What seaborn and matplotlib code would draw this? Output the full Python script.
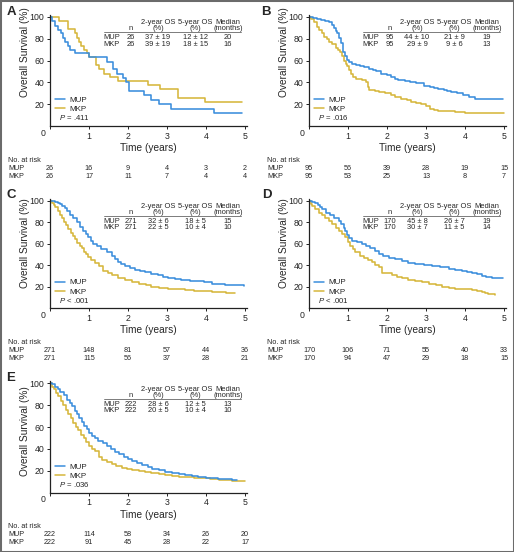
import numpy as np
import pandas as pd
import matplotlib
matplotlib.use('Agg')
import matplotlib.pyplot as plt
from matplotlib.lines import Line2D
from matplotlib.patches import Rectangle
from matplotlib.transforms import blended_transform_factory
import seaborn as sns

sns.set_style('ticks')
plt.rcParams['font.family'] = ['Liberation Sans', 'DejaVu Sans']
plt.rcParams['mathtext.fontset'] = 'custom'
plt.rcParams['mathtext.it'] = 'Liberation Sans:italic'
plt.rcParams['mathtext.rm'] = 'Liberation Sans'

BLUE = '#3b8edc'
GOLD = '#d6b73c'
W, H = 514, 552

groups = ['MUP', 'MKP']
years = [0, 1, 2, 3, 4, 5]

# --- survival curves (time in years, survival %) ---
a_mup_t = [0, 0.04, 0.13, 0.2, 0.27, 0.33, 0.38, 0.45, 0.52, 0.65, 1.0, 1.45, 1.62, 1.72, 1.88, 1.95, 2.02, 2.4, 2.58, 2.8, 3.1, 4.2, 4.92]
a_mup_s = [100, 96, 92, 88, 85, 81, 77, 73, 70, 67, 63, 59, 52, 48, 44, 40, 32, 28, 24, 20, 16, 12, 12]
a_mkp_t = [0, 0.22, 0.45, 0.65, 0.7, 0.75, 0.8, 0.87, 0.95, 1.0, 1.18, 1.25, 1.38, 1.55, 1.75, 2.52, 2.82, 3.28, 3.98, 4.93]
a_mkp_s = [100, 96, 89, 85, 81, 77, 73, 70, 67, 63, 56, 52, 48, 45, 41, 38, 34, 26, 22, 22]

b_mup_t = [0, 0.1, 0.2, 0.3, 0.4, 0.5, 0.58, 0.65, 0.7, 0.73, 0.78, 0.82, 0.86, 0.88, 0.93, 0.97, 1.03, 1.1, 1.2, 1.3,
           1.42, 1.55, 1.65, 1.72, 1.85, 2.0, 2.1, 2.2, 2.28, 2.45, 2.6, 2.75, 2.96, 3.1, 3.2, 3.3, 3.45, 3.55, 3.65,
           3.8, 3.95, 4.1, 4.25, 4.98]
b_mup_s = [100, 99, 98, 97, 96, 95, 93, 90, 87, 85, 81, 76, 72, 68, 64, 61, 59, 57, 56, 55,
           54, 52, 51, 50, 48, 47, 45, 43, 42, 41, 40, 39, 37, 36, 35, 34, 33, 32, 31,
           30, 28, 27, 25, 24.5]
b_mkp_t = [0, 0.06, 0.13, 0.2, 0.26, 0.33, 0.39, 0.45, 0.52, 0.6, 0.69, 0.75, 0.8, 0.85, 0.9, 0.94, 0.97, 1.02, 1.07,
           1.13, 1.2, 1.35, 1.46, 1.5, 1.55, 1.7, 1.8, 1.95, 2.1, 2.2, 2.36, 2.5, 2.62, 2.75, 2.88, 3.0, 3.1, 3.2, 3.3,
           3.75, 4.0, 4.3, 5.0]
b_mkp_s = [100, 98, 95, 91, 88, 85, 82, 80, 77, 75, 72, 70, 68, 64, 60, 57, 55, 51, 48,
           45, 43, 42, 40, 36, 33, 32, 31, 30, 28, 27, 25, 24, 22, 21, 20, 18, 16, 15, 14,
           13, 12, 11.5, 11.5]

c_mup_t = [0, 0.08, 0.13, 0.2, 0.26, 0.32, 0.38, 0.44, 0.51, 0.6, 0.68, 0.76, 0.85, 0.92, 0.98, 1.04, 1.1, 1.2, 1.32,
           1.45, 1.58, 1.66, 1.75, 1.83, 1.92, 2.05, 2.18, 2.3, 2.44, 2.6, 2.78, 2.9, 3.03, 3.2, 3.37, 3.6, 3.8, 3.95,
           4.15, 4.3, 4.49, 4.7, 4.98]
c_mup_s = [100, 99.5, 99, 98, 97, 95, 93, 90, 87, 84, 80, 76, 72, 69, 66, 63, 60, 58, 55,
           52, 49, 46, 43, 41, 39, 37, 36, 35, 34, 32, 31, 29.5, 28, 27, 26, 25.5, 25, 24,
           23, 22.5, 22, 21.5, 21]
c_mkp_t = [0, 0.05, 0.1, 0.13, 0.2, 0.25, 0.3, 0.36, 0.42, 0.47, 0.53, 0.58, 0.64, 0.7, 0.76, 0.81, 0.88, 0.93, 0.98,
           1.06, 1.15, 1.25, 1.37, 1.48, 1.58, 1.75, 1.92, 2.1, 2.27, 2.45, 2.6, 2.8, 3.03, 3.2, 3.46, 3.7, 3.97, 4.15,
           4.3, 4.5, 4.74]
c_mkp_s = [100, 98, 96, 94, 90, 87, 84, 80, 77, 74, 70, 67, 64, 61, 58, 56, 52, 50, 48,
           45, 42, 39, 35, 33, 31, 28, 26, 24.5, 23, 21.5, 20, 19, 18, 17.5, 17, 16.5, 16, 15.5,
           15, 14.5, 14]

d_mup_t = [0, 0.08, 0.16, 0.22, 0.27, 0.33, 0.44, 0.55, 0.65, 0.76, 0.83, 0.89, 0.93, 0.97, 1.03, 1.1, 1.22, 1.36,
           1.46, 1.57, 1.68, 1.79, 1.9, 2.04, 2.2, 2.38, 2.55, 2.73, 2.95, 3.15, 3.35, 3.58, 3.75, 3.92, 4.05, 4.18,
           4.3, 4.44, 4.55, 4.69, 4.98]
d_mup_s = [100, 99, 98, 96, 94, 92, 89, 87, 84, 81, 78, 75, 72, 68, 65, 63, 62, 60,
           58, 56, 53, 50, 49, 47, 46, 44, 42.5, 41, 40, 39, 38, 36.5, 36, 35, 34, 33,
           31.5, 30, 29, 28, 28]
d_mkp_t = [0, 0.04, 0.08, 0.16, 0.25, 0.33, 0.42, 0.5, 0.59, 0.68, 0.76, 0.85, 0.93, 1.0, 1.06, 1.12, 1.19, 1.3, 1.4,
           1.5, 1.62, 1.7, 1.79, 1.87, 2.0, 2.13, 2.25, 2.38, 2.55, 2.73, 2.9, 3.07, 3.25, 3.41, 3.58, 3.75, 4.0, 4.18,
           4.3, 4.44, 4.52, 4.6, 4.78]
d_mkp_s = [100, 97, 95, 92, 89, 87, 84, 81, 78, 75, 72, 69, 66, 62, 58, 55, 52, 49, 47,
           45, 43, 40, 38, 33, 32.5, 31, 29.5, 28, 26.5, 25, 24, 23, 21.5, 20, 19, 18, 17.5, 17,
           16, 15, 14, 13, 12.5]

e_mup_t = [0, 0.06, 0.13, 0.2, 0.26, 0.35, 0.43, 0.5, 0.56, 0.63, 0.69, 0.75, 0.81, 0.88, 0.94, 1.0, 1.07, 1.15, 1.24,
           1.35, 1.46, 1.57, 1.67, 1.78, 1.89, 2.0, 2.1, 2.22, 2.36, 2.5, 2.62, 2.8, 2.96, 3.13, 3.3, 3.47, 3.64, 3.8,
           3.99, 4.3, 4.67, 4.8]
e_mup_s = [100, 99, 97, 95, 92, 89, 85, 82, 79, 75, 72, 68, 65, 61, 58, 55, 52, 50, 47,
           45, 43, 40, 37, 35, 33, 31, 29, 27, 25, 23.5, 22, 20.5, 19, 18, 17, 16, 15, 14,
           13, 12.5, 12, 12]
e_mkp_t = [0, 0.05, 0.09, 0.15, 0.21, 0.28, 0.34, 0.4, 0.47, 0.53, 0.6, 0.66, 0.73, 0.8, 0.86, 0.92, 0.99, 1.07, 1.16,
           1.25, 1.33, 1.45, 1.59, 1.7, 1.84, 1.97, 2.1, 2.27, 2.44, 2.6, 2.79, 2.95, 3.13, 3.3, 3.47, 3.7, 3.9, 4.1,
           4.33, 4.5, 4.67, 4.85, 5.0]
e_mkp_s = [100, 97, 95, 91, 88, 84, 80, 76, 72, 68, 64, 60, 57, 53, 50, 46, 43, 40, 38,
           33, 30, 28, 26, 24.5, 23, 22, 21, 20, 19, 18, 17, 16, 15, 14.5, 14, 13.5, 13, 12.5,
           12, 11.5, 11, 10.5, 10.5]

# --- numbers at risk ---
a_risk = ([26, 16, 9, 4, 3, 2], [26, 17, 11, 7, 4, 4])
b_risk = ([95, 56, 39, 28, 19, 15], [95, 53, 25, 13, 8, 7])
c_risk = ([271, 148, 81, 57, 44, 36], [271, 115, 56, 37, 28, 21])
d_risk = ([170, 106, 71, 55, 40, 33], [170, 94, 47, 29, 18, 15])
e_risk = ([222, 114, 58, 34, 26, 20], [222, 91, 45, 28, 22, 17])

# --- inset tables: n, 2-year OS, 5-year OS, median (months) ---
a_tab = (['26', '37 ± 19', '12 ± 12', '20'], ['26', '39 ± 19', '18 ± 15', '16'])
b_tab = (['95', '44 ± 10', '21 ± 9', '19'], ['95', '29 ± 9', '9 ± 6', '13'])
c_tab = (['271', '32 ± 6', '18 ± 5', '15'], ['271', '22 ± 5', '10 ± 4', '10'])
d_tab = (['170', '45 ± 8', '26 ± 7', '19'], ['170', '30 ± 7', '11 ± 5', '14'])
e_tab = (['222', '28 ± 6', '12 ± 5', '13'], ['222', '20 ± 5', '10 ± 4', '10'])

p_vals = ['= .411', '= .016', '< .001', '< .001', '= .036']
letters = ['A', 'B', 'C', 'D', 'E']

curves = [
    (a_mup_t, a_mup_s, a_mkp_t, a_mkp_s),
    (b_mup_t, b_mup_s, b_mkp_t, b_mkp_s),
    (c_mup_t, c_mup_s, c_mkp_t, c_mkp_s),
    (d_mup_t, d_mup_s, d_mkp_t, d_mkp_s),
    (e_mup_t, e_mup_s, e_mkp_t, e_mkp_s),
]
risks = [a_risk, b_risk, c_risk, d_risk, e_risk]
tables = [a_tab, b_tab, c_tab, d_tab, e_tab]

# layout in pixels: left edge, y of 0 %, y of 100 %, ylabel position, letter position
layout = [
    (50, 126, 17, 0.66, (11, 12)),
    (309, 126, 17, 0.66, (266, 12)),
    (50, 308.3, 200.7, 0.59, (11, 195)),
    (309, 308.3, 200.7, 0.59, (267, 195)),
    (50, 492.7, 383.3, 0.55, (11, 378)),
]

fig = plt.figure(figsize=(W / 100, H / 100), dpi=100)
fig.patch.set_facecolor('white')

for i in range(5):
    left, base, top, ylab_y, (lx, ly) = layout[i]
    wpx = 195 * 1.01
    hpx = (base - top) * 1.02
    ax = fig.add_axes([left / W, (H - base) / H, wpx / W, hpx / H])

    mt, ms, kt, ks = curves[i]
    df = pd.concat([
        pd.DataFrame({'t': mt, 's': ms, 'grp': 'MUP'}),
        pd.DataFrame({'t': kt, 's': ks, 'grp': 'MKP'}),
    ])
    sns.lineplot(data=df, x='t', y='s', hue='grp', hue_order=['MKP', 'MUP'],
                 palette={'MUP': BLUE, 'MKP': GOLD}, estimator=None, sort=False,
                 drawstyle='steps-post', lw=1.15, legend=False, ax=ax)

    ax.set_xlim(0, 5.05)
    ax.set_ylim(0, 102)
    sns.despine(ax=ax)
    for sp in ['left', 'bottom']:
        ax.spines[sp].set_linewidth(0.9)
        ax.spines[sp].set_color('#222222')
    ax.set_yticks([20, 40, 60, 80, 100])
    ax.set_xticks(years)
    ax.set_xticklabels([''] + [str(y) for y in years[1:]])
    ax.tick_params(axis='both', length=2.5, width=0.7, labelsize=6.3, pad=1.5, color='#222222')
    ax.annotate('0', xy=(0, 0), xytext=(-7, -7), textcoords='offset pixels',
                ha='center', va='center', fontsize=6.3)

    ax.set_xlabel('Time (years)', fontsize=7.3, va='center')
    ax.xaxis.set_label_coords(0.5, -22 / hpx)
    ax.set_ylabel('Overall Survival (%)', fontsize=7.3, va='center')
    ax.yaxis.set_label_coords(-25 / wpx, ylab_y)

    # legend + p value
    handles = [Line2D([], [], color=BLUE, lw=1.1), Line2D([], [], color=GOLD, lw=1.1)]
    ax.legend(handles, groups, loc='lower left', bbox_to_anchor=(0.025, 0.115),
              frameon=False, fontsize=5.8, handlelength=1.3, handletextpad=0.5,
              labelspacing=0.2, borderpad=0, borderaxespad=0)
    ax.text(0.045, 0.075, '$P$ ' + p_vals[i], transform=ax.transAxes,
            fontsize=5.6, ha='left', va='center')

    # inset table
    tfs = 5.4
    hdr1 = [(2.77, '2-year OS'), (3.72, '5-year OS'), (4.56, 'Median')]
    hdr2 = [(2.06, 'n'), (2.77, '(%)'), (3.72, '(%)'), (4.56, '(months)')]
    for x, s in hdr1:
        ax.text(x, 94.5, s, ha='center', va='center', fontsize=tfs)
    for x, s in hdr2:
        ax.text(x, 89.0, s, ha='center', va='center', fontsize=tfs)
    ax.plot([1.38, 4.9], [86.0, 86.0], color='#666666', lw=0.6)
    cols = [2.08, 2.77, 3.72, 4.56]
    for r, (g, y) in enumerate(zip(groups, [81, 75])):
        ax.text(1.38, y, g, ha='left', va='center', fontsize=tfs)
        for x, s in zip(cols, tables[i][r]):
            ax.text(x, y, s, ha='center', va='center', fontsize=tfs)

    # numbers at risk
    tr = blended_transform_factory(ax.transData, ax.transAxes)
    ax.text(-1.08, -34 / hpx, 'No. at risk', transform=tr, ha='left', va='center',
            fontsize=5.2, clip_on=False)
    for r, g in enumerate(groups):
        y = -(42 + 8 * r) / hpx
        ax.text(-1.08, y, g, transform=tr, ha='left', va='center', fontsize=5.2, clip_on=False)
        for x, n in zip(years, risks[i][r]):
            ax.text(x, y, str(n), transform=tr, ha='center', va='center', fontsize=5.2, clip_on=False)

    fig.text(lx / W, 1 - ly / H, letters[i], fontsize=9.5, fontweight='bold',
             ha='center', va='center')

fig.patches.append(Rectangle((0, 0), 1, 1, transform=fig.transFigure, fill=False,
                             edgecolor='#6b6b6b', lw=2.2))

fig.savefig('out.png', dpi=100)
